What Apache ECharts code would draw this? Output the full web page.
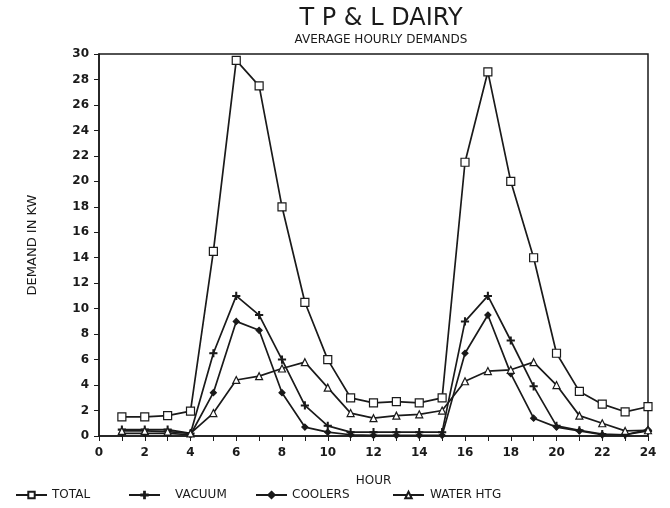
<!DOCTYPE html>
<html>
<head>
<meta charset="utf-8">
<script src="https://cdn.jsdelivr.net/npm/echarts@6/dist/echarts.min.js"></script>
<style>
  * { margin: 0; padding: 0; }
  body { background: #fff; }
  #main { width: 670px; height: 508px; }
</style>
</head>
<body>
<div id="main"></div>
<script>
// hours 1..24
var hours = [1, 2, 3, 4, 5, 6, 7, 8, 9, 10, 11, 12, 13, 14, 15, 16, 17, 18, 19, 20, 21, 22, 23, 24]
var total = [1.5, 1.5, 1.6, 1.95, 14.5, 29.5, 27.5, 18, 10.5, 6, 3, 2.6, 2.7, 2.6, 3, 21.5, 28.6, 20, 14, 6.5, 3.5, 2.5, 1.9, 2.3]
var vacuum = [0.5, 0.5, 0.5, 0.2, 6.5, 11, 9.5, 6, 2.4, 0.8, 0.3, 0.3, 0.3, 0.3, 0.3, 9, 11, 7.5, 3.9, 0.8, 0.45, 0.15, 0.1, 0.4]
var coolers = [0.2, 0.2, 0.2, 0.1, 3.4, 9, 8.3, 3.4, 0.7, 0.3, 0.1, 0.05, 0.05, 0.05, 0.05, 6.5, 9.5, 4.9, 1.4, 0.7, 0.4, 0.1, 0.1, 0.5]
var waterHtg = [0.4, 0.4, 0.35, 0.2, 1.8, 4.4, 4.7, 5.3, 5.8, 3.8, 1.8, 1.4, 1.6, 1.7, 2, 4.3, 5.1, 5.2, 5.8, 4, 1.6, 1, 0.4, 0.45]
var names = ['TOTAL', 'VACUUM', 'COOLERS', 'WATER HTG']

var ink = '#1a1a1a'
var font = 'DejaVu Sans'
var plus = 'path://M4.4,0H5.6V4.4H10V5.6H5.6V10H4.4V5.6H0V4.4H4.4Z'

function pairs (ys) {
  return hours.map(function (h, i) { return [h, ys[i]] })
}

function line (name, ys, symbol, size, fill) {
  return {
    name: name,
    type: 'line',
    data: pairs(ys),
    symbol: symbol,
    symbolSize: size,
    showAllSymbol: true,
    lineStyle: { color: ink, width: 1.7 },
    itemStyle: { color: fill, borderColor: ink, borderWidth: 1.2 },
    animation: false
  }
}

var myChart = echarts.init(document.getElementById('main'))

// each legend entry sits on its own spot like the original
var legendLeft = [10, 123, 250, 387]
var legendGap = [0, 10, 0, 1]
var legends = names.map(function (n, i) {
  return {
    data: [n],
    left: legendLeft[i],
    top: 484,
    itemWidth: 31,
    itemHeight: 8,
    itemGap: 0,
    textStyle: { color: ink, fontFamily: font, fontSize: 12, padding: [0, 0, 0, legendGap[i]] }
  }
})

var option = {
  backgroundColor: '#fff',
  title: {
    text: 'T P & L DAIRY',
    subtext: 'AVERAGE HOURLY DEMANDS',
    left: 376,
    textAlign: 'center',
    top: 2,
    itemGap: 3,
    textStyle: { fontFamily: font, fontSize: 24, fontWeight: 'normal', color: ink },
    subtextStyle: { fontFamily: font, fontSize: 12, color: ink }
  },
  legend: legends,
  grid: {
    left: 99,
    right: 22,
    top: 54,
    bottom: 72,
    show: true,
    borderColor: ink,
    borderWidth: 1.5
  },
  xAxis: {
    type: 'value',
    min: 0,
    max: 24,
    interval: 2,
    name: 'HOUR',
    nameLocation: 'middle',
    nameGap: 39,
    nameTextStyle: { fontFamily: font, fontSize: 12, color: ink },
    axisLine: { lineStyle: { color: ink, width: 1.5 } },
    axisTick: { length: 5, lineStyle: { color: ink } },
    minorTick: { show: true, splitNumber: 2, length: 5, lineStyle: { color: ink } },
    axisLabel: { color: ink, fontFamily: font, fontSize: 12, fontWeight: 'bold', margin: 11 },
    splitLine: { show: false }
  },
  yAxis: {
    type: 'value',
    min: 0,
    max: 30,
    interval: 2,
    name: 'DEMAND IN KW',
    nameLocation: 'middle',
    nameGap: 60,
    nameTextStyle: { fontFamily: font, fontSize: 13, color: ink },
    axisLine: { show: true, lineStyle: { color: ink, width: 1.5 } },
    axisTick: { show: true, length: 5, lineStyle: { color: ink } },
    axisLabel: { color: ink, fontFamily: font, fontSize: 12, fontWeight: 'bold', margin: 10 },
    splitLine: { show: false }
  },
  series: [
    line('TOTAL', total, 'rect', 8, '#fff'),
    line('VACUUM', vacuum, plus, 7, ink),
    line('COOLERS', coolers, 'diamond', 6, ink),
    line('WATER HTG', waterHtg, 'triangle', 7, '#fff')
  ]
}

myChart.setOption(option)
</script>
</body>
</html>
